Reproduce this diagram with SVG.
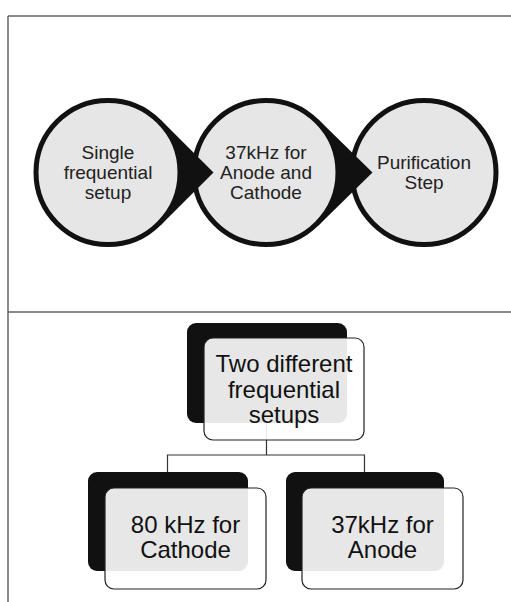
<svg xmlns="http://www.w3.org/2000/svg" width="511" height="602" viewBox="0 0 511 602">
<style>
.frame{stroke:#666;stroke-width:1.5;fill:none}
.circ{fill:#e6e6e6;stroke:#111;stroke-width:5}
.tip{fill:#111}
.ct{font-family:"Liberation Sans",Arial,sans-serif;font-size:19px;fill:#222;text-anchor:middle}
.bt{font-family:"Liberation Sans",Arial,sans-serif;font-size:24px;fill:#111;text-anchor:middle}
.back{fill:#111}
.front{fill:#fff;fill-opacity:0.9;stroke:#222;stroke-width:1.2}
.conn{stroke:#333;stroke-width:1.2;fill:none}
</style>
<rect width="511" height="602" fill="#fff"/>
<g id="frame">
<path class="frame" d="M8,16 H511 M8,16 V602 M8,312 H511"/>
</g>
<g id="node-purification">
<circle class="circ" cx="424" cy="172.5" r="72"/>
<text class="ct" x="424" y="168.5">Purification</text>
<text class="ct" x="424" y="188.5">Step</text>
</g>
<g id="node-37khz-both">
<polygon class="tip" points="318.4,119.5 372.5,172.5 318.4,225.5 266,172.5"/>
<circle class="circ" cx="266" cy="172.5" r="72"/>
<text class="ct" x="266" y="158.5">37kHz for</text>
<text class="ct" x="266" y="178.5">Anode and</text>
<text class="ct" x="266" y="198.5">Cathode</text>
</g>
<g id="node-single">
<polygon class="tip" points="160.9,120 213.5,172.5 160.9,225 108,172.5"/>
<circle class="circ" cx="108" cy="172.5" r="72"/>
<text class="ct" x="108" y="158.5">Single</text>
<text class="ct" x="108" y="178.5">frequential</text>
<text class="ct" x="108" y="198.5">setup</text>
</g>
<g id="connectors">
<path class="conn" d="M266.5,423 V455 M167.5,472 V455 H364.5 V472"/>
</g>
<g id="node-two-setups">
<rect class="back" x="187" y="323" width="160" height="100" rx="9"/>
<rect class="front" x="204" y="338" width="160" height="102" rx="9"/>
<text class="bt" x="284" y="371.5">Two different</text>
<text class="bt" x="284" y="397.5">frequential</text>
<text class="bt" x="284" y="422.5">setups</text>
</g>
<g id="node-80khz-cathode">
<rect class="back" x="88" y="472" width="160" height="99" rx="9"/>
<rect class="front" x="105" y="488" width="161" height="101" rx="9"/>
<text class="bt" x="185.5" y="532.5">80 kHz for</text>
<text class="bt" x="185.5" y="557.5">Cathode</text>
</g>
<g id="node-37khz-anode">
<rect class="back" x="286" y="472" width="158" height="99" rx="9"/>
<rect class="front" x="302" y="488" width="161" height="101" rx="9"/>
<text class="bt" x="382.5" y="532.5">37kHz for</text>
<text class="bt" x="382.5" y="557.5">Anode</text>
</g>
</svg>
